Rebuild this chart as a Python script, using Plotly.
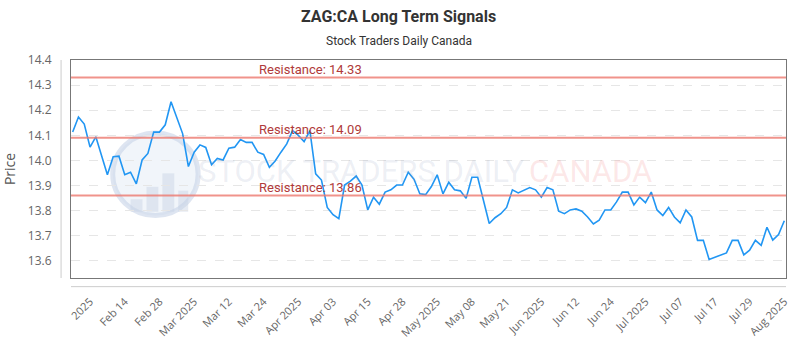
import plotly.graph_objects as go

# ---------------- data ----------------
prices = [
    14.113, 14.173, 14.145, 14.053, 14.094, 14.017, 13.943, 14.015, 14.017, 13.943,
    13.953, 13.907, 14.002, 14.028, 14.113, 14.113, 14.142, 14.234, 14.173, 14.107,
    13.976, 14.033, 14.062, 14.052, 13.983, 14.008, 14.002, 14.049, 14.053, 14.083,
    14.072, 14.072, 14.033, 14.024, 13.973, 13.998, 14.033, 14.066, 14.119, 14.100,
    14.075, 14.119, 13.947, 13.922, 13.813, 13.784, 13.768, 13.902, 13.918, 13.938,
    13.902, 13.803, 13.854, 13.826, 13.874, 13.883, 13.902, 13.902, 13.953, 13.925,
    13.867, 13.864, 13.896, 13.943, 13.867, 13.913, 13.883, 13.879, 13.849, 13.933,
    13.933, 13.839, 13.749, 13.772, 13.788, 13.813, 13.883, 13.871, 13.883, 13.892,
    13.883, 13.854, 13.892, 13.883, 13.798, 13.788, 13.803, 13.807, 13.798, 13.775,
    13.747, 13.762, 13.803, 13.803, 13.835, 13.874, 13.874, 13.823, 13.854, 13.832,
    13.874, 13.803, 13.781, 13.813, 13.775, 13.752, 13.803, 13.775, 13.682, 13.682,
    13.606, 13.615, 13.622, 13.632, 13.682, 13.682, 13.624, 13.643, 13.682, 13.662,
    13.734, 13.683, 13.705, 13.760,
]
day_index = list(range(len(prices)))

tick_positions = [3, 9, 15, 21, 27, 33, 39, 45, 51, 57, 63, 69, 75, 81, 87, 93, 99, 105, 111, 117, 123]
tick_labels = ["2025", "Feb 14", "Feb 28", "Mar 2025", "Mar 12", "Mar 24", "Apr 2025", "Apr 03",
               "Apr 15", "Apr 28", "May 2025", "May 08", "May 21", "Jun 2025", "Jun 12", "Jun 24",
               "Jul 2025", "Jul 07", "Jul 17", "Jul 29", "Aug 2025"]

resistance_levels = [14.33, 14.09, 13.86]
resistance_label_day = 32

y_ticks = [13.6, 13.7, 13.8, 13.9, 14.0, 14.1, 14.2, 14.3, 14.4]

# ---------------- figure ----------------
L, R, T, B = 70, 10, 60, 63
W, H = 800, 350
PW, PH = W - L - R, H - T - B
NARROW = "Roboto, Liberation Sans Narrow, sans-serif"


def px(x):
    return (x - L) / PW


def py(y):
    return (H - B - y) / PH


fig = go.Figure()
fig.add_trace(go.Scatter(
    x=day_index, y=prices, mode="lines",
    line=dict(color="#2196f3", width=1.6),
    hoverinfo="skip", showlegend=False,
))

shapes = []
# watermark logo (circle + bars)
shapes.append(dict(type="circle", xref="paper", yref="paper", layer="below",
                   x0=px(112), x1=px(198), y0=py(222), y1=py(136),
                   fillcolor="rgba(215,225,240,0.35)",
                   line=dict(color="rgba(200,212,232,0.6)", width=5)))
for bx0, bx1, btop in [(130, 142, 205), (146, 158, 192), (162, 174, 178), (178, 188, 196)]:
    shapes.append(dict(type="rect", xref="paper", yref="paper", layer="below",
                       x0=px(bx0), x1=px(bx1), y0=py(218), y1=py(btop),
                       fillcolor="rgba(200,210,228,0.45)", line=dict(width=0)))

# resistance lines
for lvl in resistance_levels:
    shapes.append(dict(type="line", xref="paper", yref="y", x0=0, x1=1, y0=lvl, y1=lvl,
                       line=dict(color="rgba(236,120,110,0.8)", width=2), layer="above"))
# offset axis lines
shapes.append(dict(type="line", xref="paper", yref="paper", x0=px(60), x1=px(60), y0=0, y1=1,
                   line=dict(color="#cccccc", width=1)))
shapes.append(dict(type="line", xref="paper", yref="paper", x0=0, x1=1, y0=py(296), y1=py(296),
                   line=dict(color="#cccccc", width=1)))

annotations = []
# watermark text
annotations.append(dict(x=px(362), y=py(176), xref="paper", yref="paper", showarrow=False,
                        xanchor="center", yanchor="middle", text="STOCK TRADERS DAILY",
                        font=dict(family=NARROW, size=31, weight=400, color="rgba(120,140,175,0.14)")))
annotations.append(dict(x=px(593), y=py(176), xref="paper", yref="paper", showarrow=False,
                        xanchor="center", yanchor="middle", text="CANADA",
                        font=dict(family=NARROW, size=31, weight=400, color="rgba(240,110,110,0.17)")))

for lvl in resistance_levels:
    annotations.append(dict(x=resistance_label_day, y=lvl, xref="x", yref="y",
                            text=f"Resistance: {lvl:.2f}", showarrow=False,
                            xanchor="left", yanchor="bottom", yshift=-1, xshift=-1,
                            font=dict(family=NARROW, size=13, color="#b03a3a")))

# title & subtitle
annotations.append(dict(x=px(400), y=py(15), xref="paper", yref="paper", showarrow=False,
                        text="<b>ZAG:CA Long Term Signals</b>",
                        font=dict(family=NARROW, size=16, color="#333333"),
                        xanchor="center", yanchor="middle"))
annotations.append(dict(x=px(400), y=py(40), xref="paper", yref="paper", showarrow=False,
                        text="Stock Traders Daily Canada",
                        font=dict(family=NARROW, size=12, color="#333333"),
                        xanchor="center", yanchor="middle"))

fig.update_layout(
    width=W, height=H,
    margin=dict(l=L, r=R, t=T, b=B, pad=0),
    paper_bgcolor="white", plot_bgcolor="white",
    shapes=shapes, annotations=annotations,
    showlegend=False,
    xaxis=dict(
        range=[-0.29, len(prices) - 1 + 0.29],
        tickmode="array", tickvals=tick_positions, ticktext=tick_labels,
        tickangle=-45, ticks="", showgrid=False, zeroline=False,
        showline=True, mirror=True, linecolor="#777777", linewidth=1,
        tickfont=dict(family="Open Sans, sans-serif", size=11, color="#666666"),
        ticklabelstandoff=12,
    ),
    yaxis=dict(
        range=[13.532, 14.4],
        tickmode="array", tickvals=y_ticks, ticktext=[f"{v:.1f}" for v in y_ticks],
        ticks="", showgrid=True, gridcolor="#e6e6e6", griddash="dash", gridwidth=1,
        zeroline=False, showline=True, mirror=True, linecolor="#777777", linewidth=1,
        tickfont=dict(family="Open Sans, sans-serif", size=12, color="#666666"),
        ticklabelstandoff=16,
        title=dict(text="Price", font=dict(family="Open Sans, sans-serif", size=14, color="#555555"), standoff=8),
    ),
)

fig.write_html("out.html")
